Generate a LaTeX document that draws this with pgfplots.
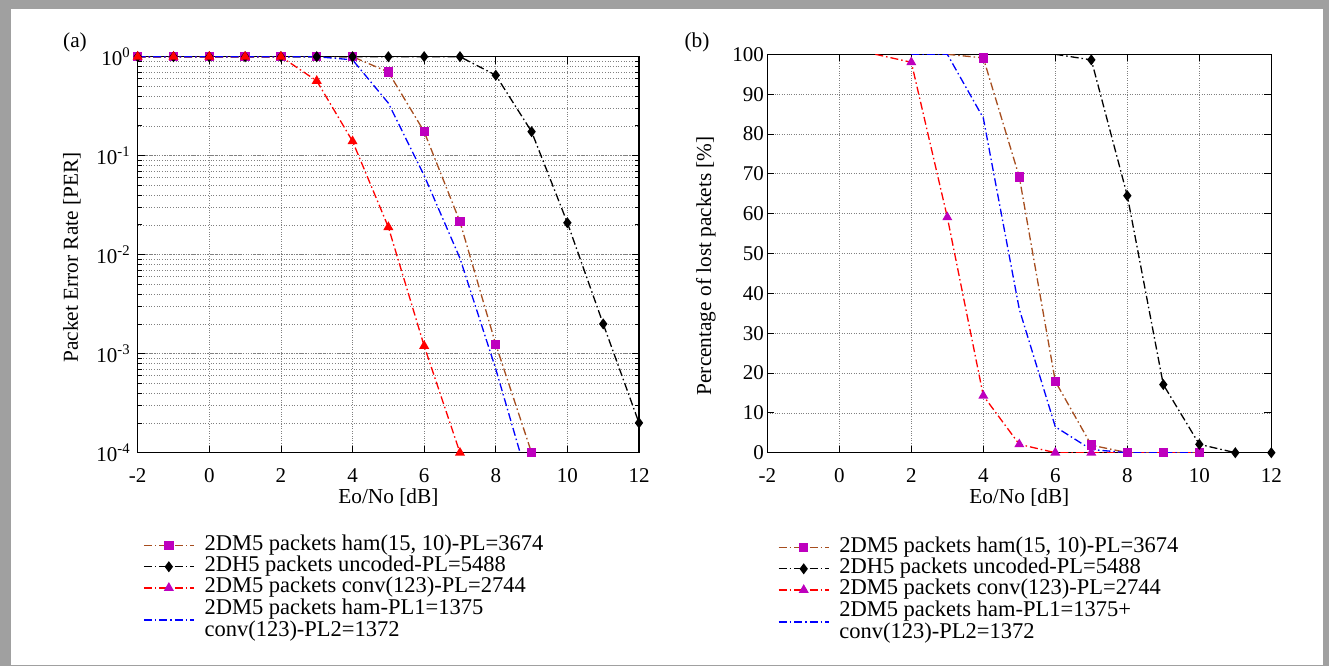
\documentclass[border=0pt]{standalone}
\usepackage{fontspec}
\setmainfont{Liberation Serif}
\usepackage{pgfplots}
\pgfplotsset{compat=1.18}
\definecolor{framegray}{RGB}{160,160,160}
\definecolor{hambrown}{RGB}{166,77,30}
\definecolor{mkmag}{RGB}{190,0,190}
\newcommand\tickfont{\fontsize{21}{24}\selectfont}
\newcommand\labfont{\fontsize{21.3}{24}\selectfont}
\newcommand\legfont{\fontsize{22.5}{22}\selectfont}
\newcommand\ls{\rule[-5.5pt]{0pt}{21pt}}
\pgfplotsset{
  panel/.style={
    scale only axis,
    xmin=-2, xmax=12, xtick={-2,0,...,12},
    axis line style={line width=1.1pt},
    every tick/.style={black, line width=0.8pt},
    major tick length=7pt, minor tick length=4pt,
    tick label style={font=\tickfont},
    /pgf/number format/assume math mode=true,
    xticklabel style={yshift=-12pt},
    label style={font=\labfont},
    grid style={dotted, gray, line width=0.7pt},
    minor grid style={dotted, gray, line width=0.7pt},
    legend cell align=left,
    legend style={draw=none, fill=none, font=\legfont, align=left,
      inner sep=0pt, nodes={inner sep=0pt, text depth=}, column sep=10pt, row sep=0pt},
    legend image code/.code={\draw[mark repeat=2, mark phase=2, ##1] plot coordinates {(0pt,0pt) (25pt,0pt) (50pt,0pt)};},
  },
  dd/.style={line width=1.3pt, dash pattern=on 8pt off 3pt on 1.5pt off 3pt},
  sqm/.style={mark=square*, mark size=4pt, mark options={solid, fill=mkmag, draw=mkmag}},
  dim/.style={mark=diamond*, mark size=4.5pt, mark options={solid, fill=black, draw=black}},
  trm/.style={mark=triangle*, mark size=4.5pt, mark options={solid, fill=#1, draw=#1}},
}
\begin{document}
\begin{tikzpicture}
\fill[framegray] (0pt,0pt) rectangle (1329pt,666pt);
\fill[white] (11pt,1pt) rectangle (1323pt,657pt);
\node[font=\labfont] at (75pt,624pt) {(a)};
\node[font=\labfont] at (697pt,624pt) {(b)};

\begin{axis}[panel, at={(137.7pt,213.3pt)}, anchor=south west,
  width=501.3pt, height=396pt,
  ymode=log, ymin=1e-4, ymax=1,
  ytick={1e-4,1e-3,1e-2,1e-1,1},
  yticklabels={10\textsuperscript{-4},10\textsuperscript{-3},10\textsuperscript{-2},10\textsuperscript{-1},10\textsuperscript{0}},
  yticklabel style={xshift=-4pt},
  grid=both,
  xlabel={Eo/No [dB]}, ylabel={Packet Error Rate [PER]},
  xlabel style={at={(axis description cs:0.5,-0.113)}, anchor=center},
  ylabel style={at={(axis description cs:-0.131,0.493)}, anchor=center},
  legend style={at={(0.0106,-0.2075)}, anchor=north west},
]
\addplot[hambrown, dd, sqm, forget plot]
  coordinates {(-2,1) (-1,1) (0,1) (1,1) (2,1) (3,1) (4,1) (5,0.70) (6,0.175) (7,0.0215) (8,0.00124) (9,1e-4)};
\addplot[black, dd, dim, forget plot]
  coordinates {(-2,1) (-1,1) (0,1) (1,1) (2,1) (3,1) (4,1) (5,1) (6,1) (7,1) (8,0.65) (9,0.175) (10,0.021) (11,0.002) (12,2e-4)};
\addplot[red, dd, trm=red, forget plot]
  coordinates {(-2,1) (-1,1) (0,1) (1,1) (2,1) (3,0.57) (4,0.14) (5,0.019) (6,0.0012) (7,1e-4)};
\addplot[blue, dd, forget plot]
  coordinates {(-2,1) (-1,1) (0,1) (1,1) (2,1) (3,1) (4,0.93) (5,0.34) (6,0.063) (7,0.0092) (8,7e-4) (9,4e-5)};
\addlegendimage{hambrown, dd, sqm}
\addlegendentry{2DM5 packets ham(15, 10)-PL=3674\ls}
\addlegendimage{black, dd, dim}
\addlegendentry{2DH5 packets uncoded-PL=5488\ls}
\addlegendimage{red, dd, trm=mkmag}
\addlegendentry{2DM5 packets conv(123)-PL=2744\ls}
\addlegendimage{blue, dd}
\addlegendentry{2DM5 packets ham-PL1=1375\ls\\conv(123)-PL2=1372\ls}
\end{axis}

\begin{axis}[panel, at={(767.3pt,213.3pt)}, anchor=south west,
  width=504pt, height=398.4pt,
  ymin=0, ymax=100, ytick={0,10,...,100},
  grid=major,
  xlabel={Eo/No [dB]}, ylabel={Percentage of lost packets [\%]},
  xlabel style={at={(axis description cs:0.5,-0.113)}, anchor=center},
  ylabel style={at={(axis description cs:-0.122,0.469)}, anchor=center},
  legend style={at={(0.021,-0.2115)}, anchor=north west},
]
\addplot[hambrown, dd, sqm, mark indices={2,3,4,5,6,7,8}, forget plot]
  coordinates {(3,100) (4,99.1) (5,69.2) (6,17.9) (7,1.9) (8,0) (9,0) (10,0)};
\addplot[black, dd, dim, mark indices={2,3,4,5,6,7}, forget plot]
  coordinates {(6,100) (7,98.6) (8,64.5) (9,17.1) (10,2.1) (11,0) (12,0)};
\addplot[red, dd, trm=mkmag, mark indices={2,3,4,5,6,7}, forget plot]
  coordinates {(1,100) (2,98) (3,59.1) (4,14.3) (5,2.1) (6,0) (7,0) (8,0) (9,0) (10,0)};
\addplot[blue, dd, forget plot]
  coordinates {(2,100) (3,100) (4,84) (5,36) (6,6.5) (7,0.8) (8,0) (9,0) (10,0)};
\addlegendimage{hambrown, dd, sqm}
\addlegendentry{2DM5 packets ham(15, 10)-PL=3674\ls}
\addlegendimage{black, dd, dim}
\addlegendentry{2DH5 packets uncoded-PL=5488\ls}
\addlegendimage{red, dd, trm=mkmag}
\addlegendentry{2DM5 packets conv(123)-PL=2744\ls}
\addlegendimage{blue, dd}
\addlegendentry{2DM5 packets ham-PL1=1375+\ls\\conv(123)-PL2=1372\ls}
\end{axis}
\end{tikzpicture}
\end{document}
